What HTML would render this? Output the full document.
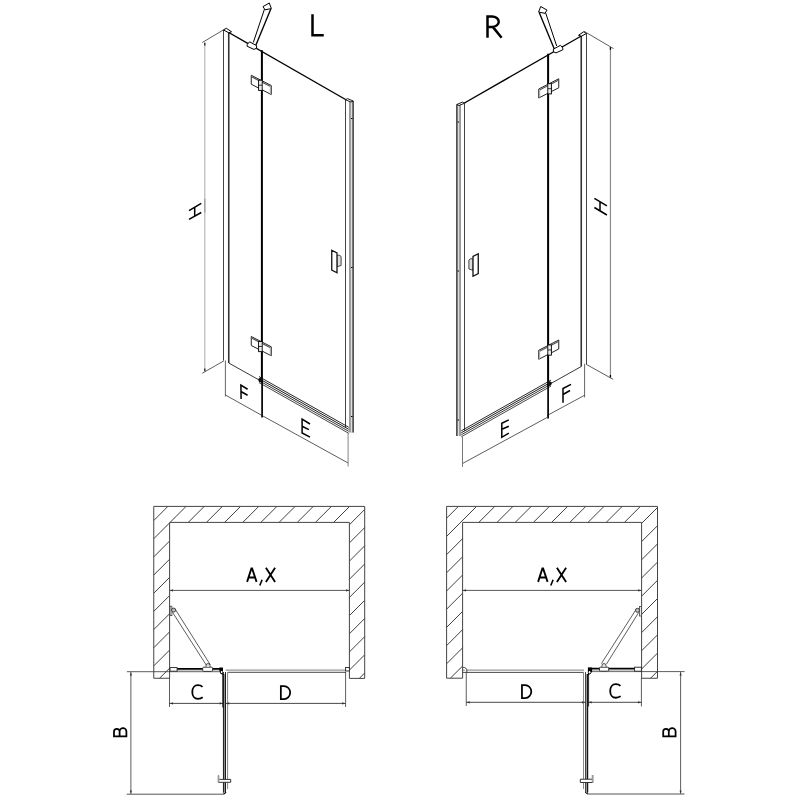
<!DOCTYPE html>
<html><head><meta charset="utf-8">
<style>
html,body{margin:0;padding:0;background:#fff;width:800px;height:800px;overflow:hidden}
svg{display:block}
</style></head>
<body>
<svg width="800" height="800" viewBox="0 0 800 800">

<!-- L DOOR -->
<g fill="none" stroke="#000">
  <line x1="223.5" y1="30" x2="223.5" y2="360.5" stroke="#444" stroke-width="1"/>
  <line x1="228.75" y1="32.5" x2="228.75" y2="363" stroke="#333" stroke-width="1.6"/>
  <polygon points="223.5,30 226.25,28.25 231.5,31.75 228.75,32.75" stroke-width="1"/>
  <line x1="228.75" y1="32.5" x2="346" y2="99.75" stroke-width="1.4"/>
  <line x1="228.75" y1="363" x2="260" y2="380.5" stroke="#222" stroke-width="0.9"/>
  <line x1="261.9" y1="50.25" x2="261.9" y2="381" stroke-width="2"/>
  <line x1="253.3" y1="42.5" x2="264.5" y2="9" stroke-width="1"/>
  <line x1="255.3" y1="46.5" x2="270.8" y2="9" stroke-width="1.35"/>
  <polygon points="263,6.6 269.3,3 271.4,8.6 265,9.8" stroke-width="1" fill="#fff"/>
  <polygon points="247.2,44.5 249.5,41.8 256.6,45.6 256.6,48.2 254,49.4 247.2,46.3" stroke-width="1" fill="#fff"/>
  <g>
    <polygon points="251.25,75.25 271.25,85.5 271.25,94.5 251.25,84.25" stroke="#222" stroke-width="1" fill="#fff"/>
    <line x1="251.5" y1="76.7" x2="271" y2="86.7" stroke="#555" stroke-width="1.2"/>
    <line x1="270.4" y1="86" x2="270.4" y2="94" stroke="#aaa" stroke-width="1.2"/>
    <rect x="258.6" y="80.2" width="3.6" height="10.2" stroke-width="0.9" fill="#eee"/>
    <line x1="258.6" y1="85.2" x2="262.2" y2="85.2" stroke-width="0.8"/>
  </g>
  <g transform="translate(0,261.25)"><g>
    <polygon points="251.25,75.25 271.25,85.5 271.25,94.5 251.25,84.25" stroke="#222" stroke-width="1" fill="#fff"/>
    <line x1="251.5" y1="76.7" x2="271" y2="86.7" stroke="#555" stroke-width="1.2"/>
    <line x1="270.4" y1="86" x2="270.4" y2="94" stroke="#aaa" stroke-width="1.2"/>
    <rect x="258.6" y="80.2" width="3.6" height="10.2" stroke-width="0.9" fill="#eee"/>
    <line x1="258.6" y1="85.2" x2="262.2" y2="85.2" stroke-width="0.8"/>
  </g></g>
  <line x1="345.5" y1="99.75" x2="345.5" y2="427.2" stroke="#444" stroke-width="1"/>
  <rect x="349" y="101" width="4.6" height="331.5" fill="#999" stroke="none"/>
  <rect x="350.9" y="101" width="1.2" height="331.5" fill="#ddd" stroke="none"/>
  <line x1="353.2" y1="101" x2="353.2" y2="432.5" stroke="#222" stroke-width="1"/>
  <polygon points="345.5,99.75 347.5,98.6 353.2,101 351,102" stroke-width="0.9" fill="#fff"/>
  <rect x="351" y="118" width="1.5" height="1" fill="#000" stroke="none"/>
  <rect x="351" y="267" width="1.5" height="1" fill="#000" stroke="none"/>
  <rect x="351" y="416" width="1.5" height="1" fill="#000" stroke="none"/>
  <polygon points="336.6,256 339,255 341.1,256.5 341.1,265.5 337,266.75" stroke="#333" stroke-width="0.9" fill="#ddd"/>
  <polygon points="331.75,250.25 337,252.9 337,272.75 331.75,270.1" stroke="#111" stroke-width="1.3" fill="#fff"/>
  <g stroke-width="0.9">
    <line x1="259" y1="376.6" x2="348.75" y2="427.3" stroke="#111"/>
    <line x1="259" y1="378.6" x2="348.75" y2="429.3" stroke="#000"/>
    <line x1="259" y1="380.6" x2="348.75" y2="431.3" stroke="#222"/>
    <line x1="259" y1="382.6" x2="348.75" y2="433.3" stroke="#333"/>
  </g>
  <polygon points="258,379 261,377.5 263,379 263,383 259,382" fill="#111" stroke="none"/>
</g>
<g fill="none" stroke="#333" stroke-width="0.8">
  <line x1="202.25" y1="42.5" x2="225" y2="29"/>
  <line x1="202.25" y1="373.25" x2="224" y2="360.75"/>
  <line x1="204.8" y1="42.5" x2="204.8" y2="371.2" stroke="#b8b8b8" stroke-width="1.2"/>
  <line x1="204.8" y1="198.75" x2="204.8" y2="212.5" stroke="#999" stroke-width="1.2"/>
  <path d="M204.8,42.8V45.6M204.8,368.4V371.2" stroke="#222" stroke-width="1.3"/>
  <line x1="225.4" y1="360.5" x2="225.4" y2="396.5" stroke="#555" stroke-width="0.9"/>
  <line x1="225.4" y1="395" x2="262" y2="415.5"/>
  <line x1="262.1" y1="381" x2="262.1" y2="417.5" stroke="#000" stroke-width="1.7"/>
  <line x1="262" y1="415.5" x2="348.1" y2="463"/>
  <line x1="348.1" y1="433" x2="348.1" y2="466.5" stroke="#777" stroke-width="0.9"/>
</g>
<g fill="none" stroke="#000" stroke-width="1.5">
  <path d="M189,210.6L201.25,203.4M189,219.4L201.25,212.5M194.7,207.3V216.3"/>
  <path d="M247.6,389.25L240.9,385.1L241.1,398.9M240.9,391.5L247.6,395.25"/>
  <path d="M310,424L302.1,419.1V433L310,437.1M302.1,426.25L308.9,429.6"/>
  <path d="M312.5,14.3V35.3H323.75" stroke-width="2.5"/>
</g>

<!-- R DOOR -->
<g transform="translate(810,3.5) scale(-1,1)"><g fill="none" stroke="#000">
  <line x1="223.5" y1="30" x2="223.5" y2="360.5" stroke="#444" stroke-width="1"/>
  <line x1="228.75" y1="32.5" x2="228.75" y2="363" stroke="#333" stroke-width="1.6"/>
  <polygon points="223.5,30 226.25,28.25 231.5,31.75 228.75,32.75" stroke-width="1"/>
  <line x1="228.75" y1="32.5" x2="346" y2="99.75" stroke-width="1.4"/>
  <line x1="228.75" y1="363" x2="260" y2="380.5" stroke="#222" stroke-width="0.9"/>
  <line x1="261.9" y1="50.25" x2="261.9" y2="381" stroke-width="2"/>
  <line x1="253.3" y1="42.5" x2="264.5" y2="9" stroke-width="1"/>
  <line x1="255.3" y1="46.5" x2="270.8" y2="9" stroke-width="1.35"/>
  <polygon points="263,6.6 269.3,3 271.4,8.6 265,9.8" stroke-width="1" fill="#fff"/>
  <polygon points="247.2,44.5 249.5,41.8 256.6,45.6 256.6,48.2 254,49.4 247.2,46.3" stroke-width="1" fill="#fff"/>
  <g>
    <polygon points="251.25,75.25 271.25,85.5 271.25,94.5 251.25,84.25" stroke="#222" stroke-width="1" fill="#fff"/>
    <line x1="251.5" y1="76.7" x2="271" y2="86.7" stroke="#555" stroke-width="1.2"/>
    <line x1="270.4" y1="86" x2="270.4" y2="94" stroke="#aaa" stroke-width="1.2"/>
    <rect x="258.6" y="80.2" width="3.6" height="10.2" stroke-width="0.9" fill="#eee"/>
    <line x1="258.6" y1="85.2" x2="262.2" y2="85.2" stroke-width="0.8"/>
  </g>
  <g transform="translate(0,261.25)"><g>
    <polygon points="251.25,75.25 271.25,85.5 271.25,94.5 251.25,84.25" stroke="#222" stroke-width="1" fill="#fff"/>
    <line x1="251.5" y1="76.7" x2="271" y2="86.7" stroke="#555" stroke-width="1.2"/>
    <line x1="270.4" y1="86" x2="270.4" y2="94" stroke="#aaa" stroke-width="1.2"/>
    <rect x="258.6" y="80.2" width="3.6" height="10.2" stroke-width="0.9" fill="#eee"/>
    <line x1="258.6" y1="85.2" x2="262.2" y2="85.2" stroke-width="0.8"/>
  </g></g>
  <line x1="345.5" y1="99.75" x2="345.5" y2="427.2" stroke="#444" stroke-width="1"/>
  <rect x="349" y="101" width="4.6" height="331.5" fill="#999" stroke="none"/>
  <rect x="350.9" y="101" width="1.2" height="331.5" fill="#ddd" stroke="none"/>
  <line x1="353.2" y1="101" x2="353.2" y2="432.5" stroke="#222" stroke-width="1"/>
  <polygon points="345.5,99.75 347.5,98.6 353.2,101 351,102" stroke-width="0.9" fill="#fff"/>
  <rect x="351" y="118" width="1.5" height="1" fill="#000" stroke="none"/>
  <rect x="351" y="267" width="1.5" height="1" fill="#000" stroke="none"/>
  <rect x="351" y="416" width="1.5" height="1" fill="#000" stroke="none"/>
  <polygon points="336.6,256 339,255 341.1,256.5 341.1,265.5 337,266.75" stroke="#333" stroke-width="0.9" fill="#ddd"/>
  <polygon points="331.75,250.25 337,252.9 337,272.75 331.75,270.1" stroke="#111" stroke-width="1.3" fill="#fff"/>
  <g stroke-width="0.9">
    <line x1="259" y1="376.6" x2="348.75" y2="427.3" stroke="#111"/>
    <line x1="259" y1="378.6" x2="348.75" y2="429.3" stroke="#000"/>
    <line x1="259" y1="380.6" x2="348.75" y2="431.3" stroke="#222"/>
    <line x1="259" y1="382.6" x2="348.75" y2="433.3" stroke="#333"/>
  </g>
  <polygon points="258,379 261,377.5 263,379 263,383 259,382" fill="#111" stroke="none"/>
</g></g>
<g fill="none" stroke="#333" stroke-width="0.8">
  <line x1="584" y1="31.25" x2="613.5" y2="48.6"/>
  <line x1="586" y1="364.2" x2="613.2" y2="379.4"/>
  <line x1="610.45" y1="47" x2="610.45" y2="377.6" stroke="#8c8c8c" stroke-width="1.2"/>
  <path d="M610.45,47.2V49.8M610.45,374.9V377.6" stroke="#000" stroke-width="1.3"/>
  <line x1="584.6" y1="363.75" x2="584.6" y2="397.4" stroke="#555" stroke-width="0.9"/>
  <line x1="547.4" y1="415.4" x2="584.6" y2="395.25"/>
  <line x1="548.1" y1="384.5" x2="548.1" y2="418.4" stroke="#000" stroke-width="1.7"/>
  <line x1="462.5" y1="463.5" x2="548" y2="417"/>
  <line x1="462.5" y1="436.8" x2="462.5" y2="467" stroke="#666" stroke-width="0.9"/>
</g>
<g fill="none" stroke="#000" stroke-width="1.5">
  <path d="M594.4,198.4L606.9,205.9M594.4,207.5L606.9,215M600,202V210.8"/>
  <path d="M571,384.3L563,388.5V402.7M563,394.5L570,390.5"/>
  <path d="M508.8,419.8L501.8,423.3V437.3L508.8,433.2M501.8,429.25L508.8,426.2"/>
  <path d="M487.5,37.8V16.5H492A6.75,5.2 0 0 1 492,26.9H487.5M492.8,26.9L501.6,37.8" stroke-width="2.5"/>
</g>

<!-- LEFT PLAN -->
<g fill="none">
  <path d="M153.75,520.55L167.90,506.40M153.75,538.72L169.60,522.87M170.07,522.40L186.07,506.40M153.75,556.89L169.60,541.04M188.24,522.40L204.24,506.40M153.75,575.06L169.60,559.21M206.41,522.40L222.41,506.40M153.75,593.23L169.60,577.38M224.58,522.40L240.58,506.40M153.75,611.40L169.60,595.55M242.75,522.40L258.75,506.40M153.75,629.57L169.60,613.72M260.92,522.40L276.92,506.40M153.75,647.74L169.60,631.89M279.09,522.40L295.09,506.40M153.75,665.91L169.60,650.06M297.26,522.40L313.26,506.40M159.58,678.25L169.60,668.23M315.43,522.40L331.43,506.40M333.60,522.40L349.60,506.40M349.40,524.77L364.70,509.47M349.40,542.94L364.70,527.64M349.40,561.11L364.70,545.81M349.40,579.28L364.70,563.98M349.40,597.45L364.70,582.15M349.40,615.62L364.70,600.32M349.40,633.79L364.70,618.49M349.40,651.96L364.70,636.66M349.40,670.13L364.70,654.83M359.30,678.40L364.70,673.00" stroke="#2a2a2a" stroke-width="0.9"/>
  <path d="M153.75,678.25V506.4H364.7V678.4H349.4V522.4H169.6V678.25Z" stroke="#444" stroke-width="1"/>
  <line x1="169.6" y1="590.4" x2="349.4" y2="590.4" stroke="#444" stroke-width="0.9"/>
  <line x1="126.9" y1="671.7" x2="222" y2="671.7" stroke="#333" stroke-width="0.8"/>
  <line x1="130.9" y1="671.9" x2="130.9" y2="793.9" stroke="#333" stroke-width="0.8"/>
  <line x1="126.75" y1="794.2" x2="224.5" y2="794.2" stroke="#555" stroke-width="1"/>
  <line x1="169.5" y1="678" x2="169.5" y2="707" stroke="#333" stroke-width="0.8"/>
  <line x1="169.5" y1="703.4" x2="223" y2="703.4" stroke="#333" stroke-width="0.9"/>
  <line x1="225.9" y1="703.4" x2="345.6" y2="703.4" stroke="#333" stroke-width="0.9"/>
  <line x1="345.6" y1="672" x2="345.6" y2="707" stroke="#333" stroke-width="0.8"/>
  <line x1="170" y1="668.8" x2="223" y2="668.8" stroke="#000" stroke-width="1.7"/>
  <line x1="170" y1="671" x2="222" y2="671" stroke="#888" stroke-width="0.9"/>
  <rect x="170" y="667.6" width="7.1" height="3.6" fill="#fff" stroke="#222" stroke-width="0.9"/>
  <rect x="202.7" y="667.2" width="9.8" height="4.2" rx="1" fill="#fff" stroke="#222" stroke-width="0.9"/>
  <path d="M206,667V665.5A2,2 0 0 1 210,665.5V667" fill="#ddd" stroke="#333" stroke-width="0.8"/>
  <line x1="172.6" y1="612.4" x2="206.4" y2="665.3" stroke="#333" stroke-width="0.8"/>
  <line x1="175.6" y1="609.8" x2="210.3" y2="664.75" stroke="#333" stroke-width="0.8"/>
  <rect x="170.1" y="606.2" width="1.8" height="9.4" fill="#fff" stroke="#444" stroke-width="0.8"/>
  <ellipse cx="173.6" cy="610.1" rx="2.1" ry="2" fill="#bbb" stroke="#333" stroke-width="0.9"/>
  <line x1="225.8" y1="670.1" x2="346" y2="670.1" stroke="#5a5a5a" stroke-width="0.8"/>
  <line x1="228" y1="672.3" x2="346" y2="672.3" stroke="#333" stroke-width="0.9"/>
  <rect x="345.6" y="667.5" width="3.8" height="3.5" fill="#fff" stroke="#222" stroke-width="0.9"/>
  <rect x="223" y="674" width="2.9" height="118" fill="#999"/>
  <line x1="223.45" y1="672" x2="223.45" y2="792" stroke="#111" stroke-width="0.9"/>
  <line x1="225.45" y1="672" x2="225.45" y2="792" stroke="#000" stroke-width="0.9"/>
  <line x1="222.8" y1="674" x2="222.8" y2="707.5" stroke="#000" stroke-width="0.9"/>
  <line x1="227.6" y1="672" x2="227.6" y2="789" stroke="#777" stroke-width="0.9"/>
  <path d="M223.2,792.5Q224.5,794.5 226,792" stroke="#000" stroke-width="1.2"/>
  <path d="M219.3,667.4H222.9V674.9L220.2,673.4L219.3,670Z" fill="#000"/><ellipse cx="221.6" cy="672.1" rx="0.85" ry="1.1" fill="#fff"/>
  <path d="M218.5,775.5V782.3H230.7V779.4H219.2" fill="#fff" stroke="#333" stroke-width="1"/>
  <rect x="217.6" y="775.5" width="1.8" height="6.8" fill="#999"/>
  <g transform="translate(169.8,590.4)"><path d="M0,0L3.2,-1.1V1.1Z" fill="#333"/></g>
  <g transform="translate(349.2,590.4) scale(-1,1)"><path d="M0,0L3.2,-1.1V1.1Z" fill="#333"/></g>
  <g transform="translate(169.8,703.4)"><path d="M0,0L3.2,-1.1V1.1Z" fill="#333"/></g>
  <g transform="translate(222.8,703.4) scale(-1,1)"><path d="M0,0L3.2,-1.1V1.1Z" fill="#333"/></g>
  <g transform="translate(226,703.4)"><path d="M0,0L3.2,-1.1V1.1Z" fill="#333"/></g>
  <g transform="translate(345.4,703.4) scale(-1,1)"><path d="M0,0L3.2,-1.1V1.1Z" fill="#333"/></g>
  <g transform="translate(130.9,672.2) rotate(90)"><path d="M0,0L3.2,-1.1V1.1Z" fill="#333"/></g>
  <g transform="translate(130.9,793.6) rotate(-90)"><path d="M0,0L3.2,-1.1V1.1Z" fill="#333"/></g>
</g>
<g fill="none" stroke="#000" stroke-width="1.85">
  <path d="M247.1,581.9L251.4,568.4H252.1L256.6,581.9M248.4,577.5H255.2M265.9,567.8L275.1,581.9M275.1,567.8L265.9,581.9"/>
  <path d="M262.1,579.8L259.8,585.5" stroke-width="1.6"/>
</g>
<path d="M202.5,686.9C201.4,685.8 199.7,685.2 197.9,685.2C194.5,685.2 192.3,687.9 192.3,692C192.3,696.1 194.5,698.8 197.9,698.8C199.7,698.8 201.4,698.3 202.7,697.2" fill="none" stroke="#000" stroke-width="1.8"/>
<path d="M280.85,699.1V686.1H284A6.2,6.5 0 0 1 284,699.1Z" fill="none" stroke="#000" stroke-width="1.75"/>
<path d="M113.1,736.4H127.25M114,736.4V731.6A2.8,2.7 0 0 1 119.6,731.6V736.4M119.6,731.3A3.4,3.1 0 0 1 126.4,731.3V736.4" fill="none" stroke="#000" stroke-width="1.75"/>

<!-- RIGHT PLAN -->
<g fill="none">
  <path d="M446.60,518.20L458.40,506.40M446.60,536.40L476.60,506.40M446.60,554.60L462.60,538.60M478.80,522.40L494.80,506.40M446.60,572.80L462.60,556.80M497.00,522.40L513.00,506.40M446.60,591.00L462.60,575.00M515.20,522.40L531.20,506.40M446.60,609.20L462.60,593.20M533.40,522.40L549.40,506.40M446.60,627.40L462.60,611.40M551.60,522.40L567.60,506.40M446.60,645.60L462.60,629.60M569.80,522.40L585.80,506.40M446.60,663.80L462.60,647.80M588.00,522.40L604.00,506.40M450.40,678.20L462.60,666.00M606.20,522.40L622.20,506.40M624.40,522.40L640.40,506.40M641.60,523.40L657.50,507.50M641.60,541.60L657.50,525.70M641.60,559.80L657.50,543.90M641.60,578.00L657.50,562.10M641.60,596.20L657.50,580.30M641.60,614.40L657.50,598.50M641.60,632.60L657.50,616.70M641.60,650.80L657.50,634.90M641.60,669.00L657.50,653.10M650.55,678.25L657.50,671.30" stroke="#2a2a2a" stroke-width="0.9"/>
  <path d="M446.6,678.2V506.4H657.5V678.25H641.6V522.4H462.6V678.2Z" stroke="#444" stroke-width="1"/>
  <line x1="462.6" y1="590.4" x2="641.6" y2="590.4" stroke="#444" stroke-width="0.9"/>
  <line x1="588" y1="671.6" x2="684.6" y2="671.6" stroke="#333" stroke-width="0.8"/>
  <line x1="680.6" y1="671.9" x2="680.6" y2="793.9" stroke="#333" stroke-width="0.8"/>
  <line x1="587" y1="794" x2="684.6" y2="794" stroke="#555" stroke-width="1"/>
  <line x1="641.4" y1="678" x2="641.4" y2="706.4" stroke="#333" stroke-width="0.8"/>
  <line x1="588.5" y1="702.3" x2="641.4" y2="702.3" stroke="#333" stroke-width="0.9"/>
  <line x1="466.25" y1="702.3" x2="585.3" y2="702.3" stroke="#333" stroke-width="0.9"/>
  <line x1="466.25" y1="672" x2="466.25" y2="706" stroke="#333" stroke-width="0.8"/>
  <line x1="588" y1="668.7" x2="641" y2="668.7" stroke="#000" stroke-width="1.7"/>
  <line x1="589" y1="671" x2="641" y2="671" stroke="#888" stroke-width="0.9"/>
  <rect x="634.6" y="667.2" width="6.8" height="4" fill="#fff" stroke="#222" stroke-width="0.9"/>
  <rect x="599.5" y="667.2" width="9.2" height="4" rx="1" fill="#fff" stroke="#222" stroke-width="0.9"/>
  <path d="M602,667V665.5A2,2 0 0 1 606,665.5V667" fill="#ddd" stroke="#333" stroke-width="0.8"/>
  <line x1="601.4" y1="663.6" x2="635.6" y2="610.2" stroke="#333" stroke-width="0.8"/>
  <line x1="606.4" y1="664.2" x2="638.6" y2="612.6" stroke="#333" stroke-width="0.8"/>
  <rect x="639.5" y="606.6" width="1.8" height="9.4" fill="#fff" stroke="#444" stroke-width="0.8"/>
  <ellipse cx="637.5" cy="610.3" rx="2.1" ry="2" fill="#bbb" stroke="#333" stroke-width="0.9"/>
  <line x1="463" y1="670.1" x2="584" y2="670.1" stroke="#5a5a5a" stroke-width="0.8"/>
  <line x1="463" y1="672.4" x2="584" y2="672.4" stroke="#333" stroke-width="0.9"/>
  <path d="M463.2,667.5A3,3 0 0 1 466.8,670.5V673" fill="#fff" stroke="#222" stroke-width="0.9"/>
  <rect x="585.9" y="674" width="1.3" height="118" fill="#999"/>
  <line x1="583.5" y1="672" x2="583.5" y2="789" stroke="#888" stroke-width="1"/>
  <line x1="585.5" y1="672" x2="585.5" y2="792" stroke="#333" stroke-width="0.9"/>
  <line x1="587.65" y1="674" x2="587.65" y2="792" stroke="#000" stroke-width="1.1"/>
  <line x1="588.6" y1="674" x2="588.6" y2="706.5" stroke="#000" stroke-width="0.8"/>
  <path d="M585.5,792Q586.5,794.2 588,792.5" stroke="#000" stroke-width="1.2"/>
  <path d="M592.1,667.4H587.9V674.9L590.6,674L592.1,671.5Z" fill="#000"/><ellipse cx="589.6" cy="672.3" rx="0.9" ry="1.2" fill="#fff"/>
  <path d="M592.6,775V782.5H580.3V779.2H592" fill="#fff" stroke="#333" stroke-width="1"/>
  <rect x="591.7" y="775" width="1.8" height="7.5" fill="#999"/>
  <g transform="translate(462.8,590.4)"><path d="M0,0L3.2,-1.1V1.1Z" fill="#333"/></g>
  <g transform="translate(641.4,590.4) scale(-1,1)"><path d="M0,0L3.2,-1.1V1.1Z" fill="#333"/></g>
  <g transform="translate(466.5,702.3)"><path d="M0,0L3.2,-1.1V1.1Z" fill="#333"/></g>
  <g transform="translate(585.2,702.3) scale(-1,1)"><path d="M0,0L3.2,-1.1V1.1Z" fill="#333"/></g>
  <g transform="translate(588.5,702.3)"><path d="M0,0L3.2,-1.1V1.1Z" fill="#333"/></g>
  <g transform="translate(641.2,702.3) scale(-1,1)"><path d="M0,0L3.2,-1.1V1.1Z" fill="#333"/></g>
  <g transform="translate(680.6,672.2) rotate(90)"><path d="M0,0L3.2,-1.1V1.1Z" fill="#333"/></g>
  <g transform="translate(680.6,793.6) rotate(-90)"><path d="M0,0L3.2,-1.1V1.1Z" fill="#333"/></g>
</g>
<g transform="translate(291,0)"><g fill="none" stroke="#000" stroke-width="1.85">
  <path d="M247.1,581.9L251.4,568.4H252.1L256.6,581.9M248.4,577.5H255.2M265.9,567.8L275.1,581.9M275.1,567.8L265.9,581.9"/>
  <path d="M262.1,579.8L259.8,585.5" stroke-width="1.6"/>
</g></g>
<g transform="translate(417.9,-1.05)"><path d="M202.5,686.9C201.4,685.8 199.7,685.2 197.9,685.2C194.5,685.2 192.3,687.9 192.3,692C192.3,696.1 194.5,698.8 197.9,698.8C199.7,698.8 201.4,698.3 202.7,697.2" fill="none" stroke="#000" stroke-width="1.8"/></g>
<g transform="translate(241.1,-1)"><path d="M280.85,699.1V686.1H284A6.2,6.5 0 0 1 284,699.1Z" fill="none" stroke="#000" stroke-width="1.75"/></g>
<g transform="translate(549.2,0)"><path d="M113.1,736.4H127.25M114,736.4V731.6A2.8,2.7 0 0 1 119.6,731.6V736.4M119.6,731.3A3.4,3.1 0 0 1 126.4,731.3V736.4" fill="none" stroke="#000" stroke-width="1.75"/></g>
</svg>
</body></html>
